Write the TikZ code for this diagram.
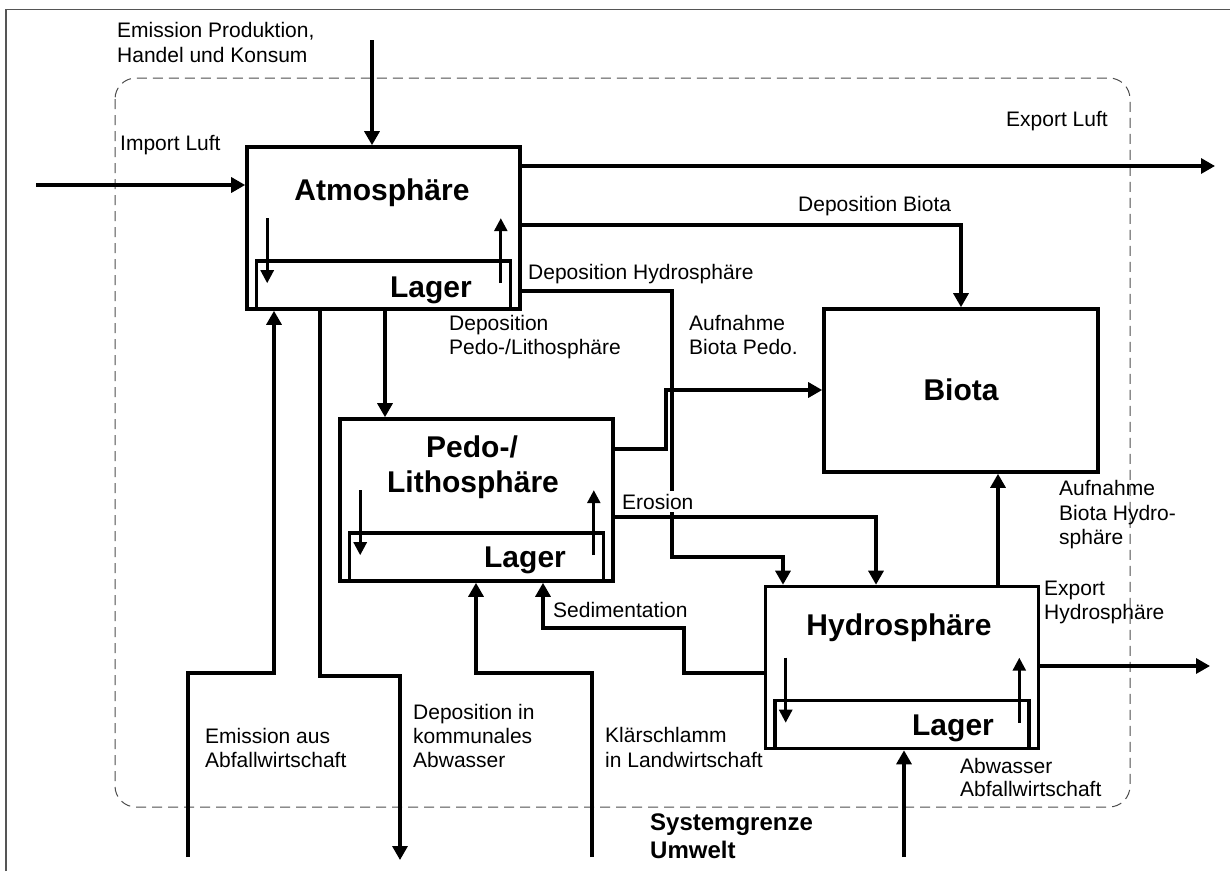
\documentclass[tikz,border=0pt]{standalone}
\usepackage{fontspec}
\setmainfont{Liberation Sans}
\usetikzlibrary{arrows.meta,calc}
\definecolor{framegray}{HTML}{555555}
\definecolor{limitgray}{HTML}{4D4D4D}
\begin{document}
\begin{tikzpicture}[x=1pt,y=-1pt,
  box/.style={draw, line width=3.6pt, minimum width=273pt, minimum height=162pt, inner sep=0pt},
  lagerbox/.style={draw, line width=3.4pt, minimum width=254pt, minimum height=48pt, inner sep=0pt, anchor=south},
  flow/.style={line width=3.2pt, -{Triangle[length=14pt,width=15pt]}},
  innerflow/.style={line width=2.7pt, -{Triangle[length=13pt,width=13pt]}},
  lbl/.style={font=\fontsize{21}{25}\selectfont, inner sep=0pt, anchor=base west},
  ttl/.style={font=\fontsize{30}{34}\selectfont\bfseries, inner sep=0pt, anchor=base},
  boundary/.style={font=\fontsize{24}{28}\selectfont\bfseries, inner sep=0pt, anchor=base west},
]
\useasboundingbox (0,0) rectangle (1230,871);
\fill[white] (0,0) rectangle (1230,871);

% outer frame (only top and left edges lie inside the page)
\draw[framegray, line width=1.5pt] (6,871) -- (6,9.5) -- (1230,9.5);

% system boundary
\draw[limitgray, line width=1pt, dash pattern=on 10pt off 6pt, rounded corners=21pt]
  (115,78) rectangle (1130,807);

% compartments
\node[box] (atm)   at (383.5,228) {};
\node[box] (pedo)  at (476.5,500) {};
\node[box, minimum width=274pt, minimum height=163pt] (biota) at (961,390.5) {};
\node[box] (hydro) at (902,667.5) {};

\node[lagerbox] (atmL)   at (atm.south)   {};
\node[lagerbox] (pedoL)  at (pedo.south)  {};
\node[lagerbox] (hydroL) at (hydro.south) {};

% titles
\node[ttl] (tAtm)   at (382,200) {Atmosphäre};
\node[ttl] (tLA)    at (431,297) {Lager};
\node[ttl] (tPedo1) at (472,457) {Pedo-/};
\node[ttl] (tPedo2) at (473,492) {Lithosphäre};
\node[ttl] (tLP)    at (525,567) {Lager};
\node[ttl] (tBio)   at (961,400) {Biota};
\node[ttl] (tHyd)   at (899,635) {Hydrosphäre};
\node[ttl] (tLH)    at (953,735) {Lager};

% exchange with the storage inside each compartment
\foreach \b in {atm,pedo,hydro}{
  \draw[innerflow] ($(\b.north west)+(22,73)$) -- ($(\b.north west)+(22,138)$);
  \draw[innerflow] ($(\b.north east)+(-21,138)$) -- ($(\b.north east)+(-21,73)$);
}

% free ends of the flows
\coordinate (emisTop) at (372,40);
\coordinate (impL)    at (36,185);
\coordinate (expL)    at (1215,166);
\coordinate (eaB)     at (188,857);
\coordinate (dkB)     at (400,860);
\coordinate (ksB)     at (592,857);
\coordinate (awB)     at (904,857);
\coordinate (exH)     at (1210,666);

% flows
\draw[flow] (emisTop) -- (emisTop |- atm.north);
\draw[flow] (impL) -- (impL -| atm.west);
\draw[flow] (expL -| atm.east) -- (expL);
\draw[flow] (atm.east |- 0,225) -| (biota.north);
\draw[flow] (atm.east |- 0,291) -- (672,291) -- (672,557) -- (783,557) -- (783,0 |- hydro.north);
\draw[flow] (385,0 |- atm.south) -- (385,0 |- pedo.north);
\draw[flow] (eaB) -- (188,673) -- (274,673) -- (274,0 |- atm.south);
\draw[flow] (320,0 |- atm.south) -- (320,676) -- (400,676) -- (dkB);
\draw[flow] (pedo.east |- 0,449) -- (666,449) -- (666,390) -- (biota.west |- 0,390);
\draw[flow] (pedo.east |- 0,517) -| (876,0 |- hydro.north);
\draw[flow] (998,0 |- hydro.north) -- (998,0 |- biota.south);
\draw[flow] (exH -| hydro.east) -- (exH);
\draw[flow] (hydro.west |- 0,673) -- (684,673) -- (684,628) -- (543,628) -- (543,0 |- pedo.south);
\draw[flow] (ksB) -- (592,673) -- (476,673) -- (476,0 |- pedo.south);
\draw[flow] (awB) -- (awB |- hydro.south);

% flow labels
\node[lbl] (tEm1) at (117,37)  {Emission Produktion,};
\node[lbl] (tEm2) at (117,62)  {Handel und Konsum};
\node[lbl] (tImp) at (120,150) {Import Luft};
\node[lbl] (tExp) at (1006,126) {Export Luft};
\node[lbl] (tDB)  at (798,211) {Deposition Biota};
\node[lbl] (tDH)  at (528,279) {Deposition Hydrosphäre};
\node[lbl] (tDP1) at (449,330) {Deposition};
\node[lbl] (tDP2) at (449,354) {Pedo-/Lithosphäre};
\node[lbl] (tAP1) at (689,330) {Aufnahme};
\node[lbl] (tAP2) at (689,354) {Biota Pedo.};
\node[lbl, fill=white, inner ysep=3pt] (tEro) at (622,509) {Erosion};
\node[lbl] (tAH1) at (1059,495) {Aufnahme};
\node[lbl] (tAH2) at (1059,520) {Biota Hydro-};
\node[lbl] (tAH3) at (1059,544) {sphäre};
\node[lbl] (tEH1) at (1044,595) {Export};
\node[lbl] (tEH2) at (1044,619) {Hydrosphäre};
\node[lbl] (tSed) at (553,617) {Sedimentation};
\node[lbl] (tEA1) at (205,743) {Emission aus};
\node[lbl] (tEA2) at (205,767) {Abfallwirtschaft};
\node[lbl] (tDK1) at (413,719) {Deposition in};
\node[lbl] (tDK2) at (413,743) {kommunales};
\node[lbl] (tDK3) at (413,767) {Abwasser};
\node[lbl] (tKS1) at (605,742) {Klärschlamm};
\node[lbl] (tKS2) at (605,767) {in Landwirtschaft};
\node[lbl] (tAW1) at (960,773) {Abwasser};
\node[lbl] (tAW2) at (960,796) {Abfallwirtschaft};
\node[boundary] (tSG1) at (650,830) {Systemgrenze};
\node[boundary] (tSG2) at (650,858) {Umwelt};
\end{tikzpicture}
\end{document}
